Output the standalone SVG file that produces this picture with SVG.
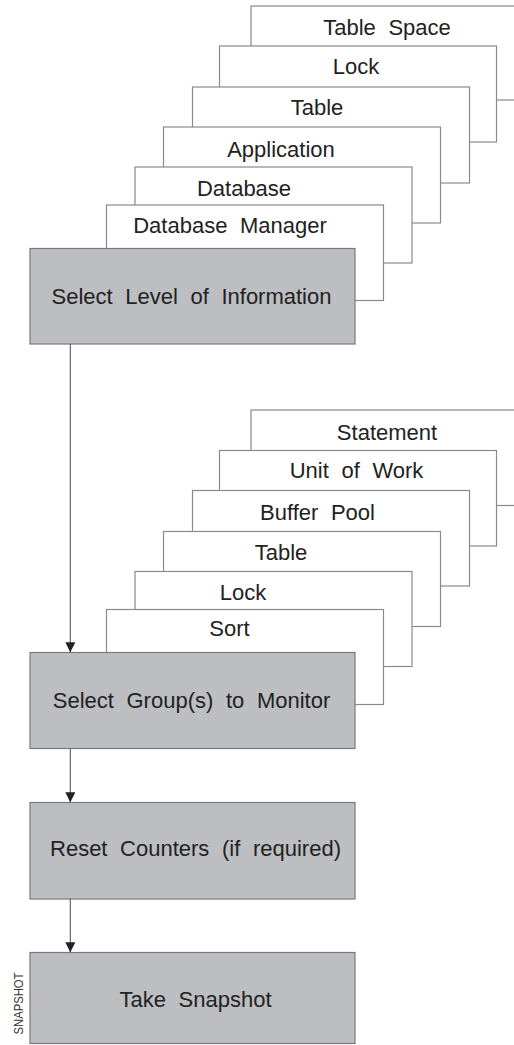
<svg xmlns="http://www.w3.org/2000/svg" width="514" height="1045" viewBox="0 0 514 1045">
<style>
.card{fill:#fff;stroke:#8a8a8a;stroke-width:1.2}
.step{fill:#bcbec1;stroke:#7a7a7a;stroke-width:1.2}
.t{font-family:"Liberation Sans",Arial,sans-serif;font-size:22px;fill:#222;text-anchor:middle;word-spacing:6.5px}
.conn{stroke:#555;stroke-width:1.1;fill:none}
</style>
<defs>
<marker id="ah" viewBox="0 0 10 10" refX="10" refY="5" markerWidth="10" markerHeight="10" markerUnits="userSpaceOnUse" orient="auto">
<path d="M0,0 L10,5 L0,10 z" fill="#222"/>
</marker>
</defs>
<rect width="514" height="1045" fill="#fff"/>

<!-- Level of information stack -->
<g id="lvl-tablespace"><rect class="card" x="251" y="6" width="300" height="94"/><text class="t" x="387" y="35">Table Space</text></g>
<g id="lvl-lock"><rect class="card" x="219.5" y="46" width="277" height="96"/><text class="t" x="356" y="74">Lock</text></g>
<g id="lvl-table"><rect class="card" x="192.5" y="87" width="277" height="96"/><text class="t" x="317" y="115">Table</text></g>
<g id="lvl-application"><rect class="card" x="163.5" y="127" width="277" height="96"/><text class="t" x="281" y="157">Application</text></g>
<g id="lvl-database"><rect class="card" x="135" y="167" width="277" height="96"/><text class="t" x="244" y="196">Database</text></g>
<g id="lvl-dbm"><rect class="card" x="106.5" y="205" width="277" height="95.5"/><text class="t" x="230" y="232.5">Database Manager</text></g>
<g id="select-level"><rect class="step" x="30" y="248.5" width="325" height="95.5"/><text class="t" x="191.5" y="303.5">Select Level of Information</text></g>

<!-- Groups stack -->
<g id="grp-statement"><rect class="card" x="251" y="410" width="300" height="95.5"/><text class="t" x="387" y="440">Statement</text></g>
<g id="grp-uow"><rect class="card" x="219.5" y="450.5" width="277" height="95.5"/><text class="t" x="356.5" y="477.5">Unit of Work</text></g>
<g id="grp-bufferpool"><rect class="card" x="192.5" y="490.5" width="277" height="95.5"/><text class="t" x="317.5" y="519.5">Buffer Pool</text></g>
<g id="grp-table"><rect class="card" x="163.5" y="531.5" width="277" height="95"/><text class="t" x="281" y="559.5">Table</text></g>
<g id="grp-lock"><rect class="card" x="135" y="571.5" width="277" height="95"/><text class="t" x="243" y="600">Lock</text></g>
<g id="grp-sort"><rect class="card" x="106.5" y="609.5" width="277" height="95"/><text class="t" x="229.5" y="636">Sort</text></g>
<g id="select-groups"><rect class="step" x="30" y="652.5" width="325" height="96"/><text class="t" x="191.5" y="707.5">Select Group(s) to Monitor</text></g>

<g id="reset"><rect class="step" x="30" y="802.5" width="325" height="96.5"/><text class="t" x="195.5" y="856">Reset Counters (if required)</text></g>
<g id="snapshot"><rect class="step" x="30" y="952.5" width="325" height="91"/><text class="t" x="195.5" y="1007">Take Snapshot</text></g>

<g id="connectors">
<line class="conn" x1="70.3" y1="344" x2="70.3" y2="652.3" marker-end="url(#ah)"/>
<line class="conn" x1="70.3" y1="748.5" x2="70.3" y2="802.3" marker-end="url(#ah)"/>
<line class="conn" x1="70.3" y1="899" x2="70.3" y2="952.3" marker-end="url(#ah)"/>
</g>

<text id="side-label" transform="translate(23,1003.5) rotate(-90)" font-family="'Liberation Sans',Arial,sans-serif" font-size="12" fill="#333" text-anchor="middle" textLength="62" lengthAdjust="spacingAndGlyphs">SNAPSHOT</text>
</svg>
